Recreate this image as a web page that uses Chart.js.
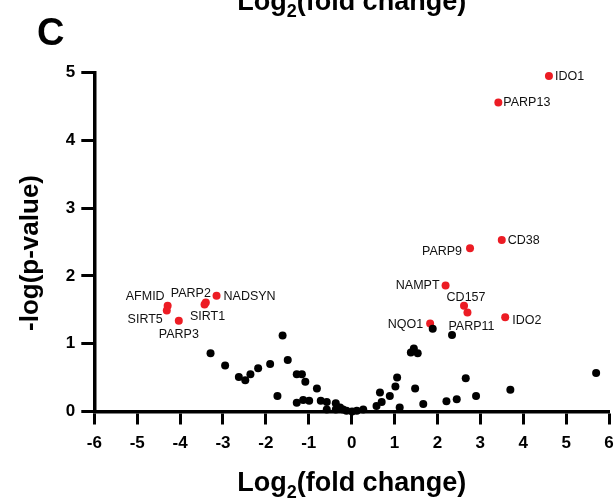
<!DOCTYPE html>
<html>
<head>
<meta charset="utf-8">
<script src="https://cdn.jsdelivr.net/npm/chart.js@4/dist/chart.umd.min.js"></script>
<style>
  html, body { margin: 0; padding: 0; background: #fff; }
  canvas { display: block; }
</style>
</head>
<body>
<canvas id="volcano" width="615" height="500"></canvas>
<script>
// Highlighted NAD-related genes
const genes = ['IDO1', 'PARP13', 'CD38', 'PARP9', 'NAMPT', 'CD157', 'PARP11', 'IDO2', 'NQO1',
               'AFMID', 'SIRT5', 'PARP2', 'NADSYN', 'SIRT1', 'PARP3'];
const geneLog2FC  = [4.60, 3.42, 3.50, 2.76, 2.19, 2.62, 2.70, 3.58, 1.83,
                     -4.29, -4.31, -3.40, -3.15, -3.43, -4.03];
const geneNegLogP = [4.95, 4.56, 2.53, 2.41, 1.86, 1.56, 1.46, 1.39, 1.30,
                     1.56, 1.49, 1.61, 1.71, 1.58, 1.34];

// All other measured genes
const otherLog2FC = [-3.29, -2.95, -2.63, -2.48, -2.36, -2.18, -1.90, -1.73, -1.61, -1.49,
                     -1.28, -1.16, -1.08, -1.28, -1.13, -0.99, -0.81, -0.72, -0.58, -0.58,
                     -0.37, -0.37, -0.27, -0.20, -0.12, 0.01, 0.12, 0.27, 0.58, 0.66,
                     0.70, 0.89, 1.02, 1.06, 1.12, 1.38, 1.45, 1.54, 1.48, 1.67,
                     1.89, 2.34, 2.21, 2.45, 2.66, 2.90, 3.70, 5.70];
const otherNegLogP = [0.86, 0.68, 0.51, 0.46, 0.55, 0.64, 0.70, 0.23, 1.12, 0.76,
                      0.55, 0.55, 0.44, 0.13, 0.17, 0.16, 0.34, 0.16, 0.14, 0.03,
                      0.12, 0.03, 0.06, 0.03, 0.01, 0.00, 0.01, 0.03, 0.08, 0.28,
                      0.14, 0.23, 0.37, 0.50, 0.06, 0.87, 0.93, 0.86, 0.34, 0.11,
                      1.22, 1.13, 0.15, 0.18, 0.49, 0.23, 0.32, 0.57];

// Axis ticks
const xTickValues = [-6, -5, -4, -3, -2, -1, 0, 1, 2, 3, 4, 5, 6];
const yTickValues = [0, 1, 2, 3, 4, 5];

const FONT = '"Liberation Sans", Arial, Helvetica, sans-serif';

// Where each gene name sits relative to its point
const labelPlacement = {
  IDO1:   { align: 'left',   dx: 6,   dy: 0 },
  PARP13: { align: 'left',   dx: 5,   dy: 0 },
  CD38:   { align: 'left',   dx: 6,   dy: 0 },
  PARP9:  { align: 'right',  dx: -8,  dy: 3 },
  NAMPT:  { align: 'right',  dx: -6,  dy: 0 },
  CD157:  { align: 'center', dx: 2,   dy: -8 },
  PARP11: { align: 'center', dx: 4,   dy: 14 },
  IDO2:   { align: 'left',   dx: 7,   dy: 3 },
  NQO1:   { align: 'right',  dx: -7,  dy: 1 },
  AFMID:  { align: 'right',  dx: -3,  dy: -9 },
  SIRT5:  { align: 'right',  dx: -4,  dy: 9 },
  PARP2:  { align: 'center', dx: -15, dy: -9 },
  NADSYN: { align: 'left',   dx: 7,   dy: 1 },
  SIRT1:  { align: 'center', dx: 3,   dy: 12 },
  PARP3:  { align: 'center', dx: 0,   dy: 14 }
};

function drawLog2Title(ctx, cx, baseline, size) {
  const main = 'bold ' + size + 'px ' + FONT;
  const sub = 'bold ' + Math.round(size * 0.66) + 'px ' + FONT;
  ctx.font = main;
  const wLog = ctx.measureText('Log').width;
  const wRest = ctx.measureText('(fold change)').width;
  ctx.font = sub;
  const wSub = ctx.measureText('2').width;
  let x = cx - (wLog + wSub + wRest) / 2;
  ctx.textAlign = 'left';
  ctx.textBaseline = 'alphabetic';
  ctx.fillStyle = '#000';
  ctx.font = main;
  ctx.fillText('Log', x, baseline);
  x += wLog;
  ctx.font = sub;
  ctx.fillText('2', x, baseline + size * 0.26);
  x += wSub;
  ctx.font = main;
  ctx.fillText('(fold change)', x, baseline);
}

const decorations = {
  id: 'decorations',
  afterDatasetsDraw(chart) {
    const ctx = chart.ctx;
    const area = chart.chartArea;
    ctx.save();

    // gene names beside the highlighted points
    const meta = chart.getDatasetMeta(1);
    ctx.font = '12.5px ' + FONT;
    ctx.fillStyle = '#111';
    ctx.textBaseline = 'middle';
    genes.forEach((g, i) => {
      const pt = meta.data[i];
      const p = labelPlacement[g];
      ctx.textAlign = p.align;
      ctx.fillText(g, pt.x + p.dx, pt.y + p.dy);
    });

    // panel letter
    ctx.font = 'bold 38px ' + FONT;
    ctx.fillStyle = '#000';
    ctx.textAlign = 'left';
    ctx.textBaseline = 'alphabetic';
    ctx.fillText('C', 37, 45);

    const cx = (area.left + area.right) / 2;
    // x-axis title of the panel above (partly visible)
    drawLog2Title(ctx, cx, 10, 27);
    // x-axis title
    drawLog2Title(ctx, cx, 491, 27);

    // y-axis title
    ctx.save();
    ctx.translate(38, 253);
    ctx.rotate(-Math.PI / 2);
    ctx.font = 'bold 26px ' + FONT;
    ctx.textAlign = 'center';
    ctx.textBaseline = 'alphabetic';
    ctx.fillStyle = '#000';
    ctx.fillText('-log(p-value)', 0, 0);
    ctx.restore();

    ctx.restore();
  }
};

const toPoints = (xs, ys) => xs.map((x, i) => ({ x: x, y: ys[i] }));

new Chart(document.getElementById('volcano'), {
  type: 'scatter',
  data: {
    datasets: [
      {
        label: 'other genes',
        data: toPoints(otherLog2FC, otherNegLogP),
        backgroundColor: '#000',
        borderWidth: 0,
        pointRadius: 4,
        clip: false
      },
      {
        label: 'NAD genes',
        data: toPoints(geneLog2FC, geneNegLogP),
        backgroundColor: '#ec1c24',
        borderWidth: 0,
        pointRadius: 4,
        clip: false
      }
    ]
  },
  options: {
    responsive: false,
    animation: false,
    devicePixelRatio: 1,
    layout: { padding: { top: 72.7, right: 6, bottom: 0, left: 0 } },
    plugins: { legend: { display: false }, tooltip: { enabled: false } },
    scales: {
      x: {
        type: 'linear',
        min: -6,
        max: 6,
        afterBuildTicks(s) { s.ticks = xTickValues.map(v => ({ value: v })); },
        afterFit(s) { s.height = 88.5; s.paddingLeft = 0; s.paddingRight = 0; },
        border: { display: true, width: 3.5, color: '#000' },
        grid: { drawOnChartArea: false, drawTicks: true, tickLength: 13, tickWidth: 3, tickColor: '#000' },
        ticks: { color: '#000', font: { family: FONT, size: 17, weight: 'bold' }, padding: 9, maxRotation: 0, autoSkip: false }
      },
      y: {
        type: 'linear',
        min: 0,
        max: 5,
        afterBuildTicks(s) { s.ticks = yTickValues.map(v => ({ value: v })); },
        afterFit(s) { s.width = 94.3; s.paddingTop = 0; s.paddingBottom = 0; },
        border: { display: true, width: 3.5, color: '#000' },
        grid: { drawOnChartArea: false, drawTicks: true, tickLength: 13, tickWidth: 3, tickColor: '#000' },
        ticks: { color: '#000', font: { family: FONT, size: 17, weight: 'bold' }, padding: 6 }
      }
    }
  },
  plugins: [decorations]
});
</script>
</body>
</html>
